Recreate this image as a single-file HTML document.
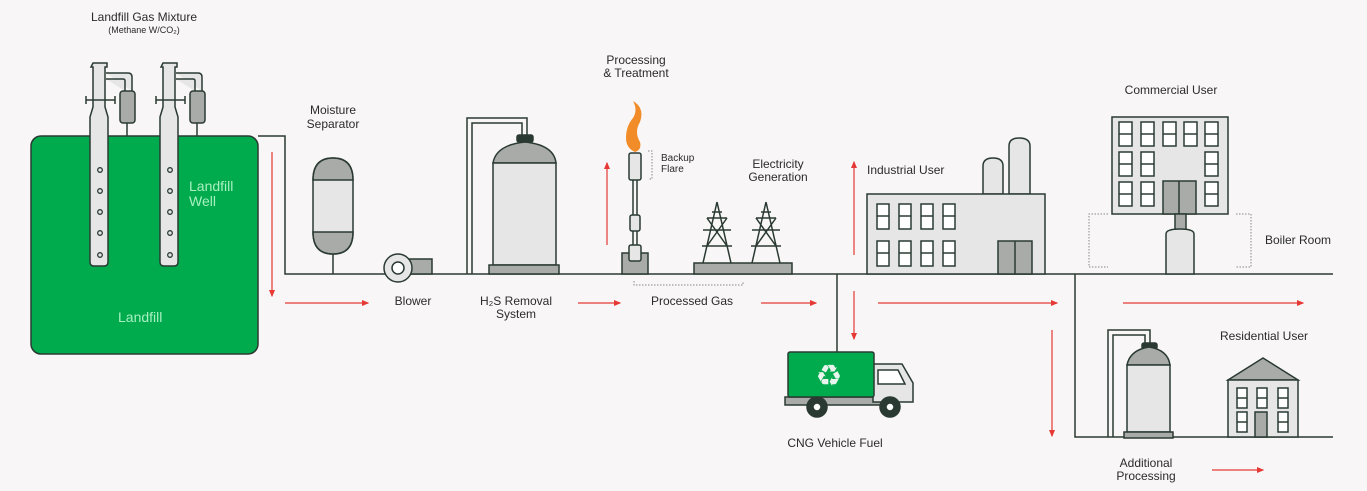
<!DOCTYPE html>
<html><head><meta charset="utf-8"><style>
html,body{margin:0;padding:0;background:#f8f6f6;}
svg{display:block;font-family:"Liberation Sans",sans-serif;}
</style></head><body>
<svg width="1367" height="491" viewBox="0 0 1367 491" xmlns="http://www.w3.org/2000/svg">
<defs>
<marker id="a" markerWidth="6" markerHeight="6" refX="5" refY="3" orient="auto"><path d="M0,0.5 L6,3 L0,5.5z" fill="#e53935"/></marker>
<g id="well">
 <path d="M3,0 h14 v4 h-2 v40 l3,10 v145 q0,4 -4,4 h-10 q-4,0 -4,-4 v-145 l3,-10 v-40 h-2z" fill="#e6e6e6" stroke="#2a3a33" stroke-width="1.5"/>
 <path d="M16,10 h22 q4,0 4,4 v14 M16,16 h17 q2,0 2,2 v10" fill="#e6e6e6" stroke="#2a3a33" stroke-width="1.5"/>
 <rect x="30" y="28" width="15" height="32" rx="3" fill="#a9aba9" stroke="#2a3a33" stroke-width="1.5"/>
 <line x1="37" y1="60" x2="37" y2="73" stroke="#2a3a33" stroke-width="1.5"/>
 <path d="M-4,37 h29 M-4,33 v8 M25,33 v8" stroke="#2a3a33" stroke-width="1.5"/>
 <g fill="none" stroke="#2a3a33" stroke-width="1.3"><circle cx="10" cy="107" r="2.3"/><circle cx="10" cy="128" r="2.3"/><circle cx="10" cy="149" r="2.3"/><circle cx="10" cy="170" r="2.3"/><circle cx="10" cy="192" r="2.3"/></g>
</g>
</defs>
<rect width="1367" height="491" fill="#f8f6f6"/>
<g stroke="#2a3a33" stroke-width="1.5" fill="none">
<!-- landfill -->
<rect x="31" y="136" width="227" height="218" rx="10" fill="#00ab4e"/>
<!-- pipes -->
<path d="M258,136 H285 V274 H1075 M1075,274 H1333 M1075,274 V437 H1333 M837,274 V352"/>
</g>
<use href="#well" x="90" y="63"/>
<use href="#well" x="160" y="63"/>
<g font-size="12" fill="#2b2b2b">
<text x="144" y="21" text-anchor="middle">Landfill Gas Mixture</text>
<text x="144" y="33" text-anchor="middle" font-size="9">(Methane W/CO₂)</text>
<text x="333" y="114" text-anchor="middle">Moisture</text>
<text x="333" y="128" text-anchor="middle">Separator</text>
<text x="413" y="305" text-anchor="middle">Blower</text>
<text x="516" y="305" text-anchor="middle">H₂S Removal</text>
<text x="516" y="318" text-anchor="middle">System</text>
<text x="636" y="64" text-anchor="middle">Processing</text>
<text x="636" y="77" text-anchor="middle">&amp; Treatment</text>
<text x="661" y="161" font-size="10">Backup</text>
<text x="661" y="172" font-size="10">Flare</text>
<text x="778" y="168" text-anchor="middle">Electricity</text>
<text x="778" y="181" text-anchor="middle">Generation</text>
<text x="692" y="305" text-anchor="middle">Processed Gas</text>
<text x="867" y="174">Industrial User</text>
<text x="1171" y="94" text-anchor="middle">Commercial User</text>
<text x="1265" y="244">Boiler Room</text>
<text x="1264" y="340" text-anchor="middle">Residential User</text>
<text x="835" y="447" text-anchor="middle">CNG Vehicle Fuel</text>
<text x="1146" y="467" text-anchor="middle">Additional</text>
<text x="1146" y="480" text-anchor="middle">Processing</text>
</g>
<g font-size="14" fill="#a8f0c0">
<text x="189" y="191">Landfill</text><text x="189" y="206">Well</text>
<text x="118" y="322">Landfill</text>
</g>
<!-- red arrows -->
<g stroke="#e53935" stroke-width="1.2" marker-end="url(#a)">
<line x1="272" y1="152" x2="272" y2="296"/>
<line x1="285" y1="303" x2="368" y2="303"/>
<line x1="578" y1="303" x2="620" y2="303"/>
<line x1="761" y1="303" x2="816" y2="303"/>
<line x1="607" y1="245" x2="607" y2="163"/>
<line x1="854" y1="255" x2="854" y2="162"/>
<line x1="854" y1="291" x2="854" y2="339"/>
<line x1="878" y1="303" x2="1057" y2="303"/>
<line x1="1052" y1="330" x2="1052" y2="436"/>
<line x1="1123" y1="303" x2="1303" y2="303"/>
<line x1="1212" y1="470" x2="1263" y2="470"/>
</g>
<g stroke="#2a3a33" stroke-width="1.5">
<!-- moisture separator -->
<line x1="333" y1="252" x2="333" y2="274"/>
<path d="M313,180 Q313,158 333,158 Q353,158 353,180 V232 Q353,254 333,254 Q313,254 313,232Z" fill="#e6e6e6"/>
<path d="M313,180 Q313,158 333,158 Q353,158 353,180Z" fill="#a9aba9"/>
<path d="M313,232 H353 Q353,254 333,254 Q313,254 313,232Z" fill="#a9aba9"/>
<!-- blower -->
<rect x="405" y="259" width="27" height="15" fill="#a9aba9"/>
<circle cx="398" cy="268" r="14" fill="#e6e6e6"/>
<circle cx="398" cy="268" r="6" fill="#fff"/>
<!-- H2S tank -->
<path d="M467,274 V118 H527 V137 M472,274 V123 H522 V137" fill="none"/>
<rect x="517" y="135" width="16" height="7" rx="2" fill="#2a3a33"/>
<path d="M493,163 Q496,145 525,142 Q554,145 556,163Z" fill="#a9aba9"/>
<rect x="493" y="163" width="63" height="102" fill="#e6e6e6"/>
<rect x="489" y="265" width="70" height="9" fill="#a9aba9"/>
<!-- flare -->
<rect x="622" y="253" width="26" height="21" fill="#a9aba9"/>
<line x1="633" y1="180" x2="633" y2="255"/>
<line x1="637" y1="180" x2="637" y2="255"/>
<rect x="629" y="153" width="12" height="27" rx="2" fill="#e6e6e6"/>
<rect x="630" y="215" width="10" height="16" rx="2" fill="#e6e6e6"/>
<rect x="629" y="245" width="12" height="16" rx="2" fill="#e6e6e6"/>
</g>
<path d="M633,101 Q645,108 640,122 Q634,132 640,142 Q642,150 635,152 Q626,148 626,138 Q626,126 633,118 Q638,110 633,101Z" fill="#f28c28"/>
<g stroke="#888" stroke-width="1" stroke-dasharray="1.5,1.5" fill="none">
<path d="M648,151 H652 V179 H648"/>
<path d="M634,281 V285 H743 V281"/>
<path d="M1108,214 H1089 V267 H1108"/>
<path d="M1236,214 H1251 V267 H1236"/>
</g>
<!-- towers -->
<g stroke="#2a3a33" stroke-width="1.5" fill="none">
<rect x="694" y="263" width="98" height="11" fill="#a9aba9"/>
<path id="tw" d="M717,202 L703,263 M717,202 L731,263 M707,218 H727 M703,230 H731 M707,218 L727,246 M727,218 L707,246 M702,246 H732 M712,212 H722"/>
<use href="#tw" x="49"/>
</g>
<!-- industrial -->
<g stroke="#2a3a33" stroke-width="1.5">
<path d="M983,194 V166 Q983,158 993,158 Q1003,158 1003,166 V194Z" fill="#e6e6e6"/>
<path d="M1009,194 V146 Q1009,138 1019,138 Q1030,138 1030,146 V194Z" fill="#e6e6e6"/>
<rect x="867" y="194" width="178" height="80" fill="#e6e6e6"/>
<rect x="998" y="241" width="34" height="33" fill="#a9aba9"/>
<line x1="1015" y1="241" x2="1015" y2="274"/>
<rect x="1112" y="117" width="116" height="97" fill="#e6e6e6"/>
<rect x="1163" y="181" width="33" height="33" fill="#a9aba9"/>
<line x1="1179" y1="181" x2="1179" y2="214"/>
<rect x="1175" y="214" width="11" height="18" fill="#a9aba9"/>
<path d="M1166,274 V234 Q1166,229 1180,229 Q1194,229 1194,234 V274Z" fill="#e6e6e6"/>
<!-- residential tank -->
<path d="M1108,437 V330 H1150 V344 M1113,437 V335 H1145 V344" fill="none"/>
<rect x="1142" y="343" width="15" height="6" rx="2" fill="#2a3a33"/>
<path d="M1127,365 Q1130,350 1149,347 Q1168,350 1170,365Z" fill="#a9aba9"/>
<rect x="1127" y="365" width="43" height="67" fill="#e6e6e6"/>
<rect x="1124" y="432" width="49" height="6" fill="#a9aba9"/>
<path d="M1228,380 L1263,358 L1298,380Z" fill="#a9aba9"/>
<rect x="1228" y="380" width="70" height="57" fill="#e6e6e6"/>
<rect x="1255" y="412" width="12" height="25" fill="#a9aba9"/>
</g>
<g fill="#fff" stroke="#2a3a33" stroke-width="1.5">
<!-- industrial windows -->
<g id="iw"><rect x="877" y="204" width="12" height="25"/><line x1="877" y1="216" x2="889" y2="216"/></g>
<use href="#iw" x="22"/><use href="#iw" x="44"/><use href="#iw" x="66"/>
<use href="#iw" y="37"/><use href="#iw" x="22" y="37"/><use href="#iw" x="44" y="37"/><use href="#iw" x="66" y="37"/>
<!-- commercial windows -->
<g id="cw"><rect x="1119" y="122" width="13" height="24"/><line x1="1119" y1="134" x2="1132" y2="134"/></g>
<use href="#cw" x="22"/><use href="#cw" x="44"/><use href="#cw" x="65"/><use href="#cw" x="86"/>
<use href="#cw" y="30"/><use href="#cw" x="22" y="30"/><use href="#cw" x="86" y="30"/>
<use href="#cw" y="60"/><use href="#cw" x="22" y="60"/><use href="#cw" x="86" y="60"/>
<!-- house windows -->
<g id="hw"><rect x="1237" y="388" width="10" height="20"/><line x1="1237" y1="398" x2="1247" y2="398"/></g>
<use href="#hw" x="20"/><use href="#hw" x="41"/>
<use href="#hw" y="24"/><use href="#hw" x="41" y="24"/>
</g>
<!-- truck -->
<g stroke="#2a3a33" stroke-width="1.5">
<rect x="785" y="397" width="100" height="8" fill="#a9aba9"/>
<path d="M873,364 H902 L913,383 V402 H873Z" fill="#e6e6e6"/>
<path d="M878,370 H898 L905,384 H878Z" fill="#fff"/>
<rect x="788" y="352" width="86" height="45" rx="2" fill="#00ab4e"/>
<circle cx="817" cy="407" r="10" fill="#2a3a33"/><circle cx="817" cy="407" r="4" fill="#fff"/>
<circle cx="890" cy="407" r="10" fill="#2a3a33"/><circle cx="890" cy="407" r="4" fill="#fff"/>
</g>
<text x="829" y="386" text-anchor="middle" font-size="30" fill="#e8f5ec" font-family="DejaVu Sans,sans-serif">♻</text>
</svg>
</body></html>
